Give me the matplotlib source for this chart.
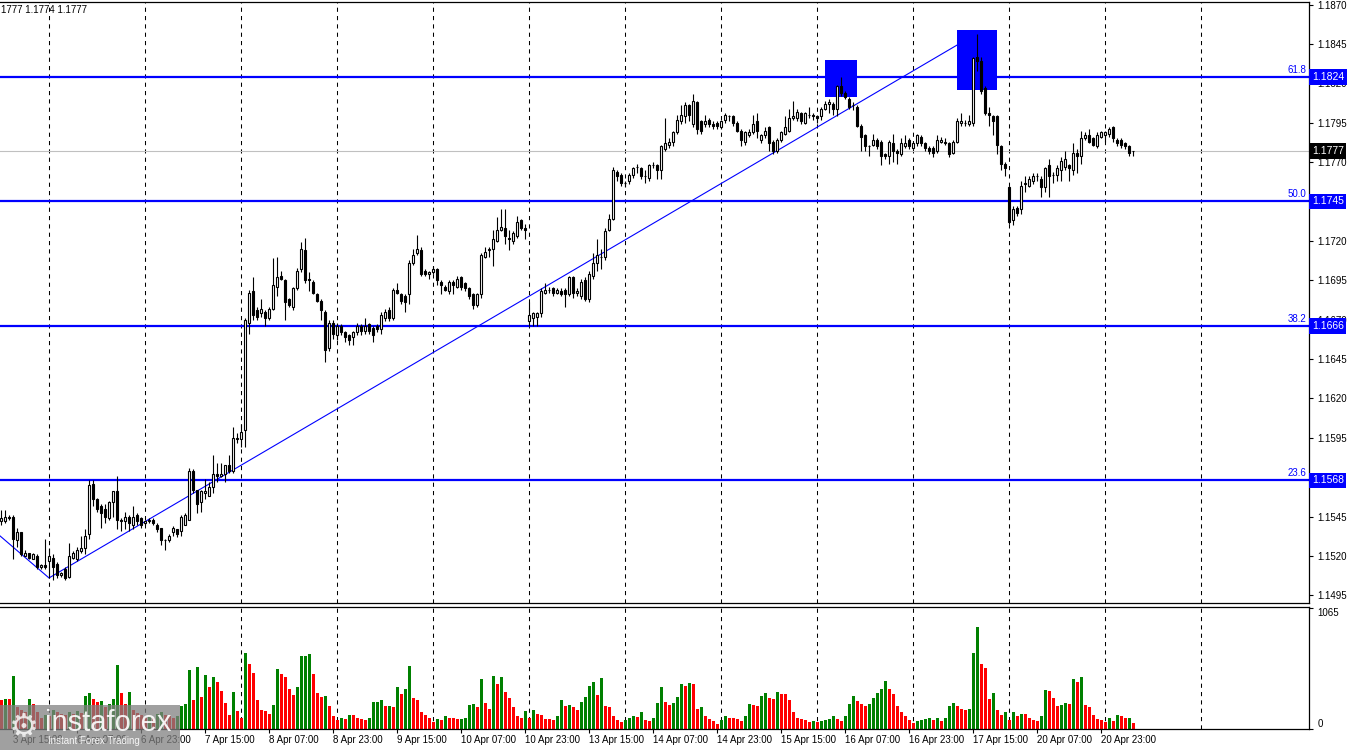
import matplotlib
matplotlib.use('Agg')
import matplotlib.pyplot as plt
import matplotlib.patches as mpatches
import matplotlib.transforms as mtrans
import numpy as np
import pandas as pd

plt.rcParams['font.family'] = ['Liberation Sans', 'DejaVu Sans']
plt.rcParams['font.size'] = 7

# EURUSD H1 from 3 Apr 12:00 to 21 Apr 07:00, prices in pips above 1.1500
opens_pips = [
    42, 42, 45, 45, 30, 35, 20, 22, 18, 20, 13, 14,
    17, 19, 15, 8, 12, 7, 19, 18, 23, 25, 34, 66, 56, 52, 50, 44, 54, 61, 43, 42, 45, 40, 46, 44,
    41, 42, 43, 40, 38, 30, 30, 35, 37, 36, 40, 43, 74, 62, 54, 60, 58, 64, 72, 71, 72, 78, 74, 95,
    94, 100, 168, 188, 176, 174, 175, 171, 177, 191, 198, 195, 183, 178, 190, 202, 214, 196, 194, 186, 182, 175, 152, 168,
    160, 166, 162, 160, 159, 162, 166, 163, 167, 165, 166, 164, 171, 176, 171, 189, 186, 185, 186, 206, 212, 214, 201, 199,
    200, 202, 194, 191, 188, 194, 191, 197, 193, 190, 186, 179, 186, 210, 214, 215, 220, 227, 228, 222, 220, 223, 233, 228,
    169, 171, 172, 174, 187, 189, 190, 187, 188, 189, 186, 197, 187, 185, 195, 183, 198, 206, 210, 210, 227, 234, 264, 262,
    257, 258, 262, 267, 266, 261, 260, 268, 268, 265, 278, 281, 283, 289, 296, 299, 306, 294, 308, 296, 294, 297, 294, 295,
    292, 297, 299, 299, 295, 290, 283, 287, 289, 296, 284, 287, 292, 283, 277, 284, 288, 290, 298, 298, 301, 295, 300, 300,
    299, 299, 304, 307, 307, 304, 318, 314, 310, 306, 305, 293, 287, 280, 281, 284, 283, 275, 274, 282, 277, 275, 280, 284,
    279, 282, 286, 282, 279, 279, 277, 283, 283, 282, 276, 283, 295, 295, 294, 295, 337, 334, 317, 301, 299, 299, 280, 269,
    254, 233, 241, 240, 256, 255, 258, 261, 259, 254, 268, 262, 262, 265, 267, 268, 265, 276, 274, 285, 287, 285, 280, 286,
    287, 288, 292, 284, 284, 282, 280, 277,
]
highs_pips = [
    49, 49, 46, 46, 38, 35, 24, 22, 22, 21, 15, 31,
    25, 21, 16, 10, 13, 28, 23, 26, 33, 37, 68, 68, 57, 53, 53, 55, 61, 71, 44, 48, 46, 52, 47, 45,
    43, 44, 44, 41, 38, 31, 34, 39, 37, 46, 47, 76, 75, 62, 62, 69, 67, 84, 79, 79, 78, 84, 102, 98,
    104, 171, 189, 197, 178, 183, 176, 178, 209, 210, 201, 196, 184, 191, 203, 219, 222, 200, 195, 187, 183, 176, 170, 170,
    168, 167, 163, 161, 163, 168, 167, 171, 168, 166, 167, 175, 177, 178, 190, 193, 187, 186, 208, 215, 224, 216, 202, 201,
    204, 203, 195, 192, 195, 195, 198, 198, 194, 191, 187, 187, 212, 216, 216, 227, 235, 240, 240, 227, 226, 236, 234, 231,
    181, 175, 175, 190, 193, 191, 191, 190, 190, 190, 198, 198, 190, 196, 197, 201, 212, 221, 215, 228, 237, 267, 265, 263,
    258, 263, 267, 269, 267, 265, 269, 270, 269, 281, 298, 285, 290, 300, 306, 308, 307, 313, 309, 297, 300, 298, 296, 296,
    297, 301, 300, 300, 296, 291, 290, 291, 300, 301, 288, 292, 293, 284, 285, 290, 299, 304, 309, 304, 302, 302, 305, 301,
    300, 305, 309, 310, 308, 319, 324, 315, 311, 308, 306, 294, 288, 281, 288, 285, 284, 276, 284, 288, 278, 285, 287, 285,
    283, 288, 287, 283, 280, 280, 287, 286, 285, 283, 284, 298, 301, 297, 300, 337, 351, 337, 318, 305, 300, 300, 281, 270,
    255, 242, 242, 258, 261, 261, 263, 263, 261, 267, 272, 264, 268, 273, 277, 269, 282, 278, 290, 289, 291, 286, 289, 290,
    290, 292, 293, 285, 285, 283, 281, 277,
]
lows_pips = [
    40, 41, 43, 18, 26, 20, 20, 18, 18, 12, 12, 12,
    6, 5, 6, 7, 5, 6, 18, 17, 22, 21, 31, 52, 48, 38, 41, 43, 45, 37, 36, 37, 36, 37, 40, 38,
    40, 41, 40, 35, 27, 24, 29, 33, 32, 33, 40, 43, 60, 47, 48, 56, 58, 60, 67, 70, 67, 73, 73, 92,
    89, 89, 161, 170, 170, 172, 166, 170, 176, 185, 195, 170, 178, 176, 189, 200, 193, 188, 186, 181, 170, 143, 150, 158,
    157, 160, 156, 154, 154, 160, 160, 161, 161, 156, 162, 161, 169, 169, 170, 186, 180, 175, 180, 205, 211, 198, 198, 196,
    199, 192, 186, 188, 186, 186, 190, 189, 188, 183, 177, 178, 184, 209, 210, 204, 219, 226, 218, 214, 218, 222, 227, 221,
    166, 166, 166, 172, 186, 187, 185, 186, 185, 178, 185, 184, 185, 183, 182, 181, 196, 201, 202, 208, 226, 233, 258, 255,
    254, 256, 260, 263, 259, 257, 258, 266, 259, 259, 277, 279, 280, 288, 294, 295, 296, 292, 288, 288, 292, 292, 291, 291,
    291, 295, 296, 293, 289, 280, 281, 286, 288, 285, 282, 285, 277, 275, 276, 283, 287, 289, 297, 296, 294, 294, 298, 297,
    295, 297, 303, 301, 300, 299, 312, 310, 304, 303, 292, 277, 277, 274, 280, 278, 268, 272, 269, 270, 269, 274, 279, 278,
    278, 280, 280, 277, 275, 273, 276, 282, 281, 273, 275, 282, 293, 293, 293, 293, 328, 313, 300, 293, 287, 275, 265, 261,
    231, 230, 236, 237, 251, 254, 256, 258, 248, 251, 248, 257, 258, 258, 265, 258, 262, 263, 269, 284, 282, 280, 279, 285,
    283, 286, 283, 280, 279, 278, 274, 274,
]
closes_pips = [
    44, 45, 44, 31, 35, 21, 22, 19, 21, 13, 14, 13,
    20, 13, 8, 9, 6, 20, 22, 24, 25, 33, 65, 56, 50, 47, 45, 54, 61, 43, 42, 45, 41, 45, 42, 40,
    42, 43, 41, 37, 30, 30, 33, 38, 34, 45, 46, 74, 62, 53, 61, 61, 64, 72, 71, 72, 78, 74, 95, 94,
    99, 170, 187, 173, 172, 177, 171, 177, 192, 197, 196, 181, 179, 190, 201, 215, 195, 195, 187, 182, 176, 151, 168, 161,
    166, 162, 159, 157, 162, 166, 163, 166, 163, 160, 164, 173, 175, 171, 189, 187, 182, 181, 206, 211, 215, 199, 199, 200,
    202, 195, 192, 189, 194, 192, 196, 191, 190, 185, 179, 186, 211, 213, 215, 221, 227, 229, 223, 221, 225, 232, 228, 227,
    173, 174, 174, 188, 189, 189, 187, 189, 186, 186, 197, 187, 188, 194, 183, 199, 206, 211, 210, 226, 234, 265, 261, 257,
    257, 262, 266, 267, 261, 261, 268, 268, 265, 280, 282, 283, 289, 297, 300, 306, 300, 309, 291, 290, 296, 294, 293, 293,
    296, 300, 299, 295, 290, 284, 289, 289, 294, 290, 287, 290, 282, 277, 284, 289, 292, 298, 299, 302, 296, 301, 300, 299,
    298, 304, 307, 308, 304, 318, 314, 311, 305, 306, 293, 286, 280, 280, 284, 280, 274, 274, 283, 277, 276, 282, 282, 280,
    282, 287, 282, 279, 277, 276, 284, 284, 282, 275, 283, 296, 296, 295, 296, 336, 334, 315, 301, 300, 296, 281, 269, 266,
    232, 240, 238, 255, 257, 259, 261, 261, 254, 266, 261, 262, 266, 271, 272, 266, 276, 274, 285, 287, 283, 281, 287, 289,
    289, 291, 285, 282, 281, 280, 276, 277,
]
volumes = [
    251, 266, 260, 464, 195, 170, 150, 266, 216, 150, 100, 127,
    110, 163, 150, 130, 120, 145, 130, 160, 140, 287, 314, 260, 237, 243, 192, 222, 260, 562, 317, 216, 322, 163, 140, 120,
    100, 110, 100, 133, 150, 120, 110, 100, 118, 198, 222, 518, 251, 544, 278, 473, 367, 455, 414, 331, 225, 127, 322, 154,
    101, 671, 574, 494, 257, 163, 154, 136, 207, 527, 482, 455, 349, 296, 367, 640, 645, 660, 482, 314, 278, 287, 198, 118,
    80, 101, 92, 127, 125, 101, 92, 83, 101, 234, 235, 251, 198, 204, 189, 367, 305, 349, 553, 269, 251, 145, 127, 101,
    65, 92, 83, 118, 101, 95, 88, 92, 93, 207, 216, 189, 438, 225, 180, 464, 393, 455, 322, 269, 189, 118, 101, 154,
    101, 163, 136, 127, 92, 91, 83, 118, 251, 198, 207, 189, 163, 234, 278, 376, 411, 296, 447, 198, 189, 118, 83, 65,
    83, 101, 110, 109, 145, 83, 74, 101, 225, 367, 234, 207, 225, 278, 393, 376, 402, 393, 180, 189, 110, 92, 74, 48,
    83, 110, 101, 100, 92, 74, 118, 216, 215, 198, 287, 314, 269, 260, 322, 305, 304, 251, 145, 101, 92, 83, 65, 74,
    65, 74, 83, 92, 110, 92, 74, 110, 216, 287, 243, 222, 205, 222, 269, 314, 349, 420, 349, 305, 198, 148, 110, 83,
    50, 74, 76, 92, 101, 83, 101, 74, 101, 198, 225, 198, 172, 170, 180, 671, 896, 573, 538, 260, 314, 163, 127, 145,
    83, 145, 110, 136, 134, 101, 83, 74, 110, 340, 331, 269, 198, 207, 225, 216, 438, 411, 455, 207, 189, 127, 92, 83,
    65, 101, 74, 127, 110, 98, 101, 56,
]

fib_levels = [1.1824, 1.1745, 1.1666, 1.1568]
fib_names = ['61.8', '50.0', '38.2', '23.6']
last_price = 1.1777
header = '1777 1.1774 1.1777'   # left part of the line is cut off in the terminal
# trend line anchors (bar number, price) and the two marked boxes (bar from, bar to, low, high)
trend_bars = [-2, 12, 244]
trend_prices = [1.15366, 1.15061, 1.18517]
boxes = [(206, 214, 1.1811, 1.1835), (239, 249, 1.1816, 1.1854)]

base = 1.1500
o = base + np.array(opens_pips) / 10000
h = base + np.array(highs_pips) / 10000
l = base + np.array(lows_pips) / 10000
c = base + np.array(closes_pips) / 10000
vol = np.array(volumes)
n = len(c)
x = np.arange(n)

times = pd.date_range('2026-04-03 12:00', '2026-04-22 23:00', freq='h')
times = times[times.dayofweek < 5]
midnights = np.where(times.hour == 0)[0]
lab_pos = np.arange(3, n, 16)
lab_txt = [f"{times[i].day} {times[i]:%b %H:%M}" for i in lab_pos]

W, H = 1350, 750
fig = plt.figure(figsize=(W / 100, H / 100), dpi=100)
ax = fig.add_axes([0, 147 / H, 1309 / W, 601 / H])
axv = fig.add_axes([0, 21 / H, 1309 / W, 122 / H])

for a in (ax, axv):
    a.set_xlim(-0.25, 327)
    a.spines['left'].set_visible(False)
    for s in ('top', 'right', 'bottom'):
        a.spines[s].set_linewidth(0.9)
    a.yaxis.tick_right()
    a.tick_params(axis='y', direction='out', length=3, width=0.8, pad=3, labelsize=7)
    for m in midnights:
        a.axvline(m, color='black', lw=0.75, ls=(0, (4, 4)), zorder=0.5)

# main price pane
ax.set_ylim(1.14902, 1.18716)
ticks = np.round(np.arange(1.1495, 1.18701, 0.0025), 4)
ax.set_yticks(ticks)
# labels that sit fully under a level tag are not visible in the terminal
hidden = [t for t in ticks if min(abs(t - lev) for lev in fib_levels) < 0.00025]
ax.set_yticklabels(['' if t in hidden else f'{t:.4f}' for t in ticks])
ax.set_xticks([])

ax.axhline(last_price, color='#c0c0c0', lw=0.8, zorder=0.6)
ax.plot(trend_bars, trend_prices, color='#0000ff', lw=0.8, zorder=1.5)
for b0, b1, p0, p1 in boxes:
    ax.add_patch(mpatches.Rectangle((b0, p0), b1 - b0, p1 - p0, fc='#0000ff', ec='none', zorder=2))

up = c >= o
ax.vlines(x, l, h, color='black', lw=0.8, zorder=3)
ax.bar(x[up], (c - o)[up], bottom=o[up], width=0.5, color='white', edgecolor='black', lw=0.8, zorder=4)
ax.bar(x[~up], (o - c)[~up], bottom=c[~up], width=0.5, color='black', edgecolor='black', lw=0.8, zorder=4)

ytrans = mtrans.blended_transform_factory(ax.transAxes, ax.transData)
tag_box = dict(boxstyle='square,pad=0.25', ec='none')
for lev, name in zip(fib_levels, fib_names):
    ax.axhline(lev, color='#0000ff', lw=1.6, zorder=2.5)
    ax.annotate(name, (1306 / 1309, lev), xycoords=ytrans, xytext=(0, 1.5),
                textcoords='offset points', ha='right', va='bottom', color='#0000ff', fontsize=7)
    ax.text(1.0022, lev, f'{lev:.4f}', transform=ytrans, ha='left', va='center', color='white',
            fontsize=7.5, clip_on=False, zorder=10, bbox=dict(tag_box, fc='#0000ff'))
ax.text(1.0022, last_price, f'{last_price:.4f}', transform=ytrans, ha='left', va='center', color='white',
        fontsize=7.5, clip_on=False, zorder=10, bbox=dict(tag_box, fc='black'))

# volume pane
up_vol = np.r_[False, vol[1:] > vol[:-1]]
axv.bar(x, vol, width=0.75, color=np.where(up_vol, '#008000', '#ff0000'), zorder=2)
axv.set_ylim(0, 1072)
axv.set_yticks([0, 1065])
axv.set_yticklabels(['0', '1065'])
for lab, va in zip(axv.get_yticklabels(), ['bottom', 'top']):
    lab.set_va(va)
axv.set_xticks(lab_pos)
axv.set_xticklabels(lab_txt, ha='left')
axv.tick_params(axis='x', direction='out', length=3, width=0.8, pad=1.5, labelsize=7)

fig.text(1 / W, 1 - 10 / H, header, ha='left', va='center', fontsize=7)

# watermark
fig.patches.append(mpatches.Rectangle((0, 0), 180 / W, 45 / H, transform=fig.transFigure,
                                      fc='#808080', ec='none', alpha=0.75, zorder=5))
fig.text(24 / W, 1 - 727 / H, '\u2699', ha='center', va='center', fontsize=24, color='white',
         alpha=0.8, family='DejaVu Sans', zorder=6)
fig.text(45 / W, 1 - 731 / H, 'instaforex', ha='left', va='baseline', fontsize=21, color='white',
         alpha=0.9, zorder=6)
fig.text(48 / W, 1 - 741 / H, 'Instant Forex Trading', ha='left', va='center', fontsize=7,
         color='white', alpha=0.9, zorder=6)

fig.savefig('out.png', dpi=100, facecolor='white')
